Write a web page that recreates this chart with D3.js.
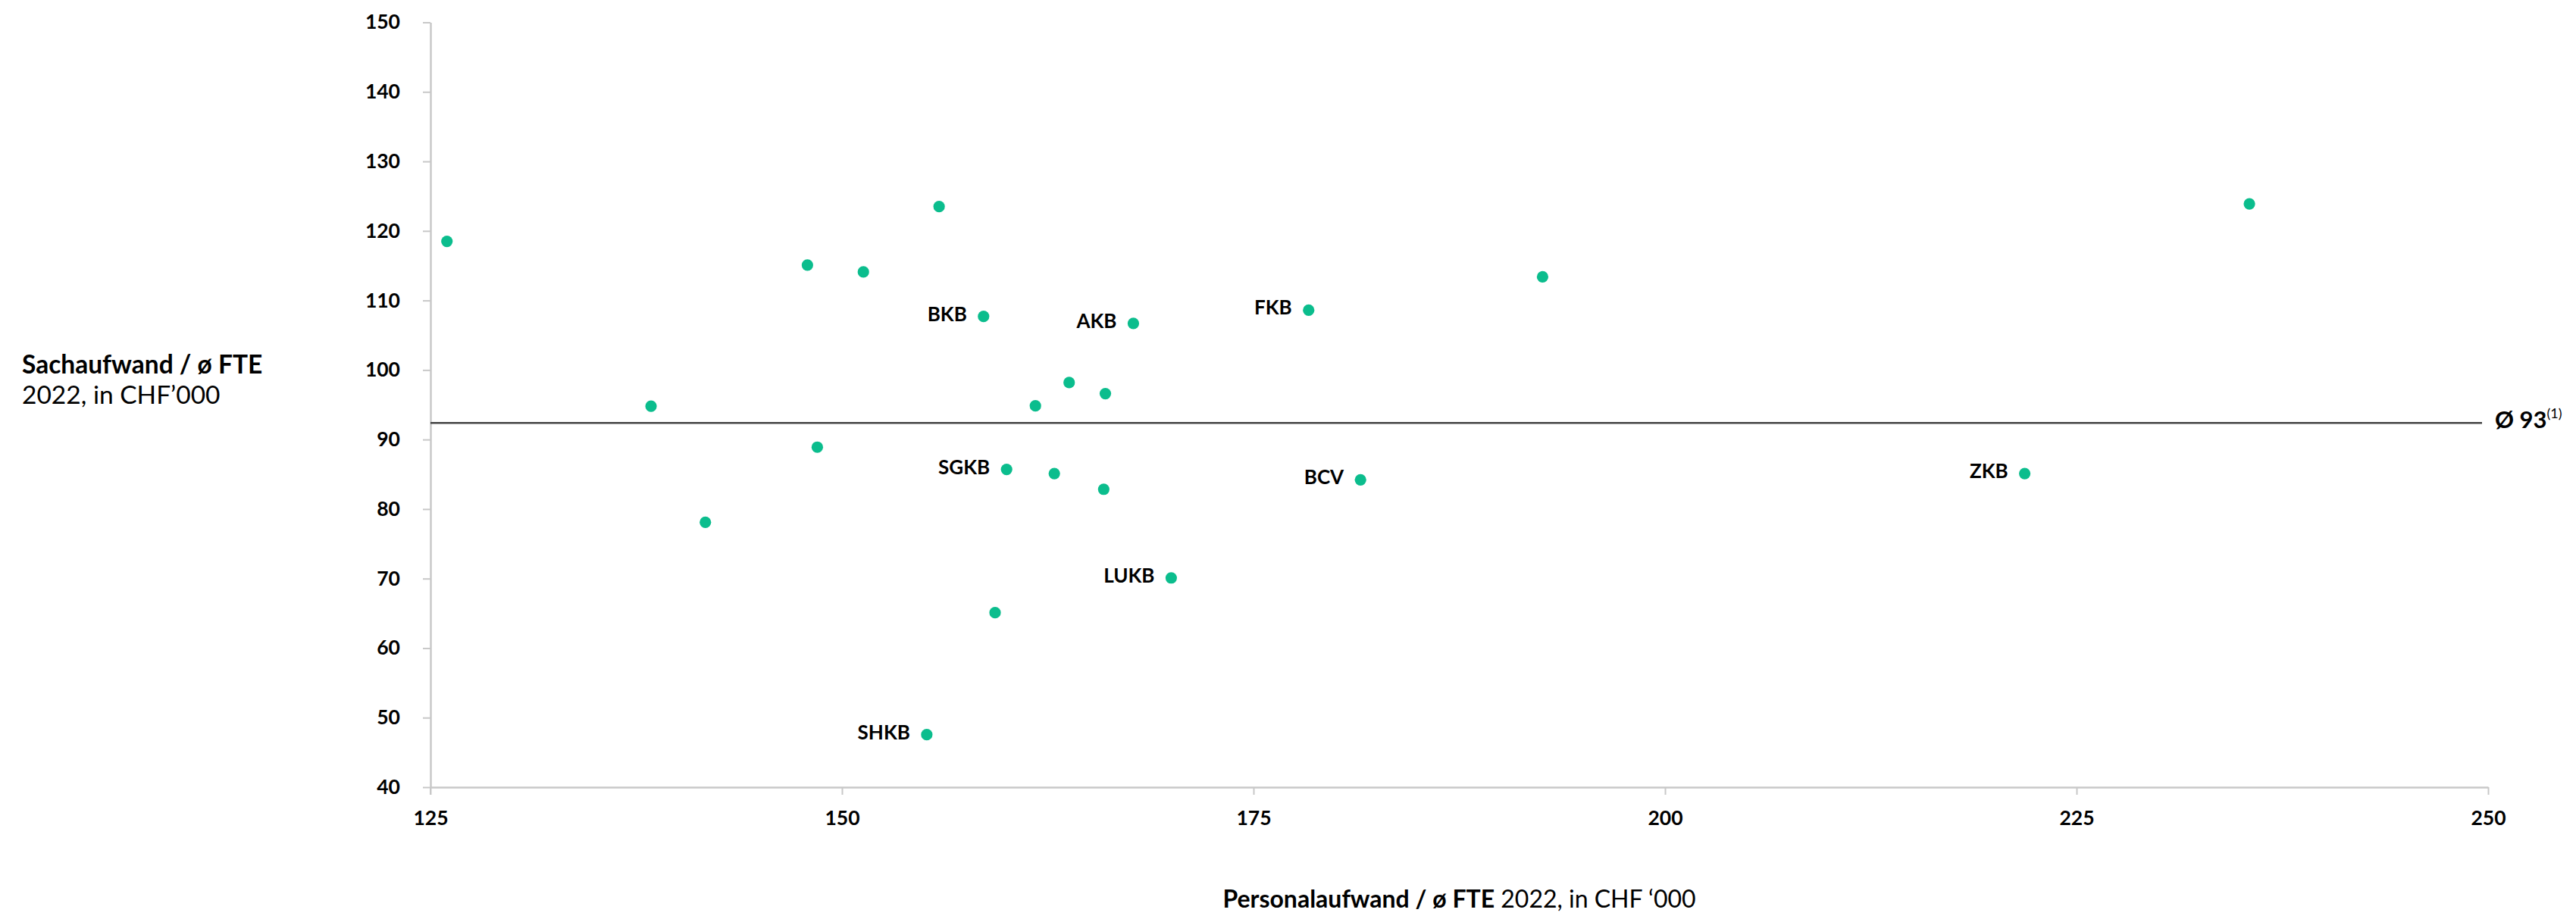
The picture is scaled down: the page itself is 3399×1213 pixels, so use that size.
<!DOCTYPE html>
<html>
<head>
<meta charset="utf-8">
<script src="https://cdn.jsdelivr.net/npm/d3@7"></script>
<style>
  html, body { margin: 0; padding: 0; background: #fff; }
  svg { display: block; font-family: Lato, "Open Sans", sans-serif; }
</style>
</head>
<body>
<svg id="chart" width="3399" height="1213"></svg>
<script>
// ---- data ----
const banks    = ["", "", "", "", "", "", "", "BKB", "SGKB", "", "SHKB", "", "", "", "", "", "AKB", "LUKB", "FKB", "BCV", "", "ZKB", ""];
const personal = [126.0, 138.4, 141.7, 147.9, 148.5, 151.3, 155.9, 158.6, 160.0, 159.3, 155.15, 161.75, 163.8, 162.9, 166.0, 165.9, 167.7, 170.0, 178.35, 181.5, 192.56, 221.85, 235.5];
const sach     = [118.5, 94.8, 78.1, 115.1, 88.9, 114.1, 123.5, 107.7, 85.7, 65.1, 47.55, 94.85, 98.2, 85.1, 96.6, 82.85, 106.7, 70.1, 108.6, 84.2, 113.4, 85.1, 123.9];
const xTicks = [125, 150, 175, 200, 225, 250];
const yTicks = [40, 50, 60, 70, 80, 90, 100, 110, 120, 130, 140, 150];
const average = 92.38;
const averageLabel = "Ø 93";
const averageNote = "(1)";
const yTitleBold = "Sachaufwand / ø FTE";
const yTitleRegular = "2022, in CHF’000";
const xTitleBold = "Personalaufwand / ø FTE";
const xTitleRegular = " 2022, in CHF ‘000";

(function () {
const points = banks.map((b, i) => ({ name: b, x: personal[i], y: sach[i] }));

// ---- layout ----
const svg = d3.select("#chart");
const pLeft = 568, pRight = 3283, pTop = 29.5, pBottom = 1039;
const x = d3.scaleLinear().domain([125, 250]).range([pLeft, pRight]);
const y = d3.scaleLinear().domain([40, 150]).range([pBottom, pTop]);

const axisColor = "#c8c8c8";
const dotColor = "#0bbd8d";

// y axis
const gy = svg.append("g").attr("transform", `translate(${pLeft},0)`)
  .call(d3.axisLeft(y).tickValues(yTicks).tickSize(10).tickSizeOuter(0).tickPadding(30));
// x axis
const gx = svg.append("g").attr("transform", `translate(0,${pBottom})`)
  .call(d3.axisBottom(x).tickValues(xTicks).tickSize(10).tickSizeOuter(0).tickPadding(21));

[gx, gy].forEach(g => {
  g.select(".domain").attr("stroke", axisColor).attr("stroke-width", 2.5);
  g.selectAll(".tick line").attr("stroke", axisColor).attr("stroke-width", 2);
  g.selectAll(".tick text").attr("fill", "#000").attr("font-size", 26.5).attr("font-weight", 700)
    .attr("font-family", "Lato, sans-serif");
});
svg.append("line").attr("x1", pLeft).attr("x2", pLeft).attr("y1", pBottom).attr("y2", pBottom + 10)
  .attr("stroke", axisColor).attr("stroke-width", 2);

// average line
svg.append("line")
  .attr("x1", pLeft).attr("x2", 3275)
  .attr("y1", y(average)).attr("y2", y(average))
  .attr("stroke", "#444").attr("stroke-width", 2.5);
const avgText = svg.append("text")
  .attr("x", 3292).attr("y", y(average) + 7)
  .attr("font-size", 31).attr("font-weight", 700).attr("fill", "#000");
avgText.append("tspan").text(averageLabel);
avgText.append("tspan").attr("font-size", 18).attr("font-weight", 400).attr("dy", -13).text(averageNote);

// points
svg.append("g").selectAll("circle").data(points).join("circle")
  .attr("cx", d => x(d.x)).attr("cy", d => y(d.y)).attr("r", 7.6)
  .attr("fill", dotColor);

// labels
svg.append("g").selectAll("text").data(points.filter(d => d.name)).join("text")
  .attr("x", d => x(d.x) - 22).attr("y", d => y(d.y) - 4)
  .attr("text-anchor", "end").attr("dominant-baseline", "central")
  .attr("font-size", 26).attr("font-weight", 700).attr("fill", "#000")
  .text(d => d.name);

// y title
const yt = svg.append("text").attr("x", 29).attr("y", 493).attr("fill", "#000").attr("font-size", 33.5);
yt.append("tspan").attr("font-weight", 700).text(yTitleBold);
yt.append("tspan").attr("x", 29).attr("dy", 40).attr("font-weight", 400).text(yTitleRegular);

// x title
const xt = svg.append("text").attr("x", (pLeft + pRight) / 2).attr("y", 1198)
  .attr("text-anchor", "middle").attr("fill", "#000").attr("font-size", 32);
xt.append("tspan").attr("font-weight", 700).text(xTitleBold);
xt.append("tspan").attr("font-weight", 400).text(xTitleRegular);
})();
</script>
</body>
</html>
